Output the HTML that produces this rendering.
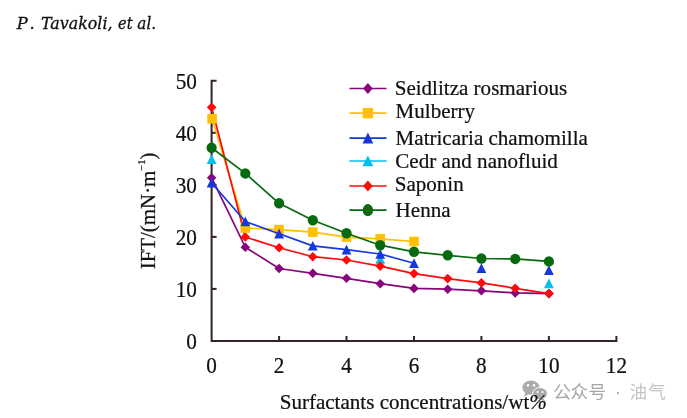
<!DOCTYPE html>
<html><head><meta charset="utf-8"><title>Figure</title>
<style>html,body{margin:0;padding:0;background:#fff}svg{display:block}</style></head>
<body>
<svg width="687" height="418" viewBox="0 0 687 418">
<rect width="687" height="418" fill="#fff"/>
<g stroke="#33242a" stroke-width="2" fill="none">
<path d="M216.6 80.7H211.6V341.0H616.4V336.0"/>
<path d="M211.6 288.9h5"/>
<path d="M211.6 236.9h5"/>
<path d="M211.6 184.8h5"/>
<path d="M211.6 132.8h5"/>
<path d="M279.1 341.0v-5"/>
<path d="M346.5 341.0v-5"/>
<path d="M414.0 341.0v-5"/>
<path d="M481.4 341.0v-5"/>
<path d="M548.9 341.0v-5"/>
</g>
<g fill="#ababab">
<ellipse cx="531" cy="387.6" rx="8.6" ry="7.2"/>
<path d="M525.5 392.5l-1.6 4.2 4.8-2.4z"/>
<ellipse cx="540" cy="393.6" rx="7.4" ry="6.1" stroke="#fff" stroke-width="1"/>
<path d="M543.5 398.5l1.6 2.8-4.2-1.6z"/>
</g>
<g fill="#fff"><circle cx="528" cy="385.3" r="1.2"/><circle cx="534" cy="385.3" r="1.2"/><circle cx="537.6" cy="392" r="1"/><circle cx="542.6" cy="392" r="1"/></g>
<g font-family="'Liberation Sans','Noto Sans CJK SC',sans-serif" font-size="17.6">
<text y="398.2" fill="#a6a6a6" x="553.2 570.6 588.6 607 615 623 629.4 648">公众号 · <tspan fill="#c4c4c4">油气</tspan></text></g>
<g font-family="'Liberation Serif',serif" font-size="20.9" fill="#111" stroke="#111" stroke-width="0.22">
<text transform="translate(196.9 348.8) scale(1 1.07)" font-size="21.2" text-anchor="end">0</text>
<text transform="translate(196.9 296.7) scale(1 1.07)" font-size="21.2" text-anchor="end">10</text>
<text transform="translate(196.9 244.7) scale(1 1.07)" font-size="21.2" text-anchor="end">20</text>
<text transform="translate(196.9 192.6) scale(1 1.07)" font-size="21.2" text-anchor="end">30</text>
<text transform="translate(196.9 140.6) scale(1 1.07)" font-size="21.2" text-anchor="end">40</text>
<text transform="translate(196.9 88.5) scale(1 1.07)" font-size="21.2" text-anchor="end">50</text>
<text transform="translate(211.6 372.7) scale(1 1.07)" font-size="21.2" text-anchor="middle">0</text>
<text transform="translate(279.1 372.7) scale(1 1.07)" font-size="21.2" text-anchor="middle">2</text>
<text transform="translate(346.5 372.7) scale(1 1.07)" font-size="21.2" text-anchor="middle">4</text>
<text transform="translate(414.0 372.7) scale(1 1.07)" font-size="21.2" text-anchor="middle">6</text>
<text transform="translate(481.4 372.7) scale(1 1.07)" font-size="21.2" text-anchor="middle">8</text>
<text transform="translate(548.9 372.7) scale(1 1.07)" font-size="21.2" text-anchor="middle">10</text>
<text transform="translate(616.4 372.7) scale(1 1.07)" font-size="21.2" text-anchor="middle">12</text>
<text x="279.7" y="408.5" font-size="21.05">Surfactants concentrations/wt<tspan font-style="italic">%</tspan></text>
<text transform="translate(154.6 269.3) rotate(-90)">IFT/(mN·m<tspan font-size="10.5" dy="-9.5">−1</tspan><tspan dy="9.5">)</tspan></text>
</g>
<path d="M211.6 177.7L245.3 247.2L279.1 268.5L312.8 273.3L346.5 278.3L380.2 283.7L414.0 288.4L447.7 289.2L481.4 290.8L515.2 292.9L548.9 293.6" stroke="#86077c" stroke-width="1.7" fill="none" stroke-linejoin="round"/>
<path d="M211.6 172.9L216.4 177.7L211.6 182.5L206.8 177.7Z" fill="#86077c"/>
<path d="M245.3 242.4L250.1 247.2L245.3 252.0L240.5 247.2Z" fill="#86077c"/>
<path d="M279.1 263.7L283.9 268.5L279.1 273.3L274.3 268.5Z" fill="#86077c"/>
<path d="M312.8 268.5L317.6 273.3L312.8 278.1L308.0 273.3Z" fill="#86077c"/>
<path d="M346.5 273.5L351.3 278.3L346.5 283.1L341.7 278.3Z" fill="#86077c"/>
<path d="M380.2 278.9L385.1 283.7L380.2 288.5L375.4 283.7Z" fill="#86077c"/>
<path d="M414.0 283.6L418.8 288.4L414.0 293.2L409.2 288.4Z" fill="#86077c"/>
<path d="M447.7 284.4L452.5 289.2L447.7 294.0L442.9 289.2Z" fill="#86077c"/>
<path d="M481.4 286.0L486.2 290.8L481.4 295.6L476.6 290.8Z" fill="#86077c"/>
<path d="M515.2 288.1L520.0 292.9L515.2 297.7L510.4 292.9Z" fill="#86077c"/>
<path d="M548.9 288.8L553.7 293.6L548.9 298.4L544.1 293.6Z" fill="#86077c"/>
<path d="M211.6 154.3L216.5 164.0L206.7 164.0Z" fill="#00c0f0"/>
<path d="M380.2 254.0L385.1 263.7L375.4 263.7Z" fill="#00c0f0"/>
<path d="M548.9 278.6L553.8 288.3L544.0 288.3Z" fill="#00c0f0"/>
<path d="M212.1 118.7L245.3 228.0L279.1 229.6L312.8 232.1L346.5 237.1L380.2 238.9L414.0 241.5" stroke="#ffc000" stroke-width="1.7" fill="none" stroke-linejoin="round"/>
<path d="M211.6 107.2L245.3 237.0L279.1 247.7L312.8 256.7L346.5 260.0L380.2 266.1L414.0 273.6L447.7 278.6L481.4 282.9L515.2 288.3L548.9 293.6" stroke="#ff0a0a" stroke-width="1.7" fill="none" stroke-linejoin="round"/>
<path d="M211.6 102.4L216.4 107.2L211.6 112.0L206.8 107.2Z" fill="#ff0a0a"/>
<path d="M245.3 232.2L250.1 237.0L245.3 241.8L240.5 237.0Z" fill="#ff0a0a"/>
<path d="M279.1 242.9L283.9 247.7L279.1 252.5L274.3 247.7Z" fill="#ff0a0a"/>
<path d="M312.8 251.9L317.6 256.7L312.8 261.5L308.0 256.7Z" fill="#ff0a0a"/>
<path d="M346.5 255.2L351.3 260.0L346.5 264.8L341.7 260.0Z" fill="#ff0a0a"/>
<path d="M380.2 261.3L385.1 266.1L380.2 270.9L375.4 266.1Z" fill="#ff0a0a"/>
<path d="M414.0 268.8L418.8 273.6L414.0 278.4L409.2 273.6Z" fill="#ff0a0a"/>
<path d="M447.7 273.8L452.5 278.6L447.7 283.4L442.9 278.6Z" fill="#ff0a0a"/>
<path d="M481.4 278.1L486.2 282.9L481.4 287.7L476.6 282.9Z" fill="#ff0a0a"/>
<path d="M515.2 283.5L520.0 288.3L515.2 293.1L510.4 288.3Z" fill="#ff0a0a"/>
<path d="M548.9 288.8L553.7 293.6L548.9 298.4L544.1 293.6Z" fill="#ff0a0a"/>
<rect x="207.3" y="113.9" width="9.6" height="9.6" fill="#ffc000"/>
<rect x="240.5" y="223.2" width="9.6" height="9.6" fill="#ffc000"/>
<rect x="274.3" y="224.8" width="9.6" height="9.6" fill="#ffc000"/>
<rect x="308.0" y="227.3" width="9.6" height="9.6" fill="#ffc000"/>
<rect x="341.7" y="232.3" width="9.6" height="9.6" fill="#ffc000"/>
<rect x="375.4" y="234.1" width="9.6" height="9.6" fill="#ffc000"/>
<rect x="409.2" y="236.7" width="9.6" height="9.6" fill="#ffc000"/>
<path d="M211.6 182.7L245.3 221.5L279.1 233.7L312.8 245.9L346.5 249.7L380.2 254.0L414.0 263.3" stroke="#1538dd" stroke-width="1.7" fill="none" stroke-linejoin="round"/>
<path d="M211.6 177.7L216.5 187.4L206.7 187.4Z" fill="#1538dd"/>
<path d="M245.3 216.5L250.2 226.2L240.4 226.2Z" fill="#1538dd"/>
<path d="M279.1 228.7L284.0 238.4L274.2 238.4Z" fill="#1538dd"/>
<path d="M312.8 240.9L317.7 250.6L307.9 250.6Z" fill="#1538dd"/>
<path d="M346.5 244.7L351.4 254.4L341.6 254.4Z" fill="#1538dd"/>
<path d="M380.2 249.0L385.1 258.7L375.4 258.7Z" fill="#1538dd"/>
<path d="M414.0 258.3L418.9 268.0L409.1 268.0Z" fill="#1538dd"/>
<path d="M481.4 263.2L486.3 272.9L476.5 272.9Z" fill="#1538dd"/>
<path d="M548.9 265.3L553.8 275.0L544.0 275.0Z" fill="#1538dd"/>
<path d="M211.6 147.7L245.3 173.4L279.1 203.3L312.8 220.2L346.5 233.3L380.2 245.2L414.0 251.8L447.7 255.3L481.4 258.5L515.2 258.9L548.9 261.4" stroke="#066a0e" stroke-width="1.7" fill="none" stroke-linejoin="round"/>
<ellipse cx="211.6" cy="147.7" rx="5.1" ry="5.25" fill="#066a0e"/>
<ellipse cx="245.3" cy="173.4" rx="5.1" ry="5.25" fill="#066a0e"/>
<ellipse cx="279.1" cy="203.3" rx="5.1" ry="5.25" fill="#066a0e"/>
<ellipse cx="312.8" cy="220.2" rx="5.1" ry="5.25" fill="#066a0e"/>
<ellipse cx="346.5" cy="233.3" rx="5.1" ry="5.25" fill="#066a0e"/>
<ellipse cx="380.2" cy="245.2" rx="5.1" ry="5.25" fill="#066a0e"/>
<ellipse cx="414.0" cy="251.8" rx="5.1" ry="5.25" fill="#066a0e"/>
<ellipse cx="447.7" cy="255.3" rx="5.1" ry="5.25" fill="#066a0e"/>
<ellipse cx="481.4" cy="258.5" rx="5.1" ry="5.25" fill="#066a0e"/>
<ellipse cx="515.2" cy="258.9" rx="5.1" ry="5.25" fill="#066a0e"/>
<ellipse cx="548.9" cy="261.4" rx="5.1" ry="5.25" fill="#066a0e"/>
<g font-family="'Liberation Serif',serif" font-size="21.05" fill="#111" stroke="#111" stroke-width="0.22">
<path d="M349.5 88.5H386.5" stroke="#86077c" stroke-width="1.7"/>
<g stroke="none"><path d="M367.9 83.0L372.7 88.5L367.9 94.0L363.1 88.5Z" fill="#86077c"/></g>
<text x="394.7" y="95.1">Seidlitza rosmarious</text>
<path d="M349.5 113.2H386.5" stroke="#ffc000" stroke-width="1.7"/>
<g stroke="none"><rect x="362.7" y="108.0" width="10.4" height="10.4" fill="#ffc000"/></g>
<text x="395.6" y="117.7">Mulberry</text>
<path d="M349.5 138.2H386.5" stroke="#1538dd" stroke-width="1.7"/>
<g stroke="none"><path d="M367.9 132.6L373.3 143.4L362.5 143.4Z" fill="#1538dd"/></g>
<text x="395.6" y="145.3">Matricaria chamomilla</text>
<path d="M349.5 161.0H386.5" stroke="#00c0f0" stroke-width="1.7"/>
<g stroke="none"><path d="M367.9 155.4L373.3 166.2L362.5 166.2Z" fill="#00c0f0"/></g>
<text x="395.3" y="167.8">Cedr and nanofluid</text>
<path d="M349.5 186H386.5" stroke="#ff0a0a" stroke-width="1.7"/>
<g stroke="none"><path d="M367.9 180.5L372.7 186.0L367.9 191.5L363.1 186.0Z" fill="#ff0a0a"/></g>
<text x="394.7" y="191">Saponin</text>
<path d="M349.5 210.2H386.5" stroke="#066a0e" stroke-width="1.7"/>
<g stroke="none"><ellipse cx="367.9" cy="210.2" rx="5.2" ry="6.1" fill="#066a0e"/></g>
<text x="395.6" y="216.9">Henna</text>
</g>
<text y="28.5" font-family="'DejaVu Serif','Liberation Serif',serif" font-style="italic" font-size="16.3" fill="#111" stroke="#111" stroke-width="0.3"><tspan x="16.8 29.6">P.</tspan> <tspan x="41" textLength="71.5" lengthAdjust="spacingAndGlyphs">Tavakoli,</tspan> <tspan x="118" textLength="14.5" lengthAdjust="spacingAndGlyphs">et</tspan> <tspan x="137.3" textLength="18.8" lengthAdjust="spacingAndGlyphs">al.</tspan></text>
</svg>
</body></html>
